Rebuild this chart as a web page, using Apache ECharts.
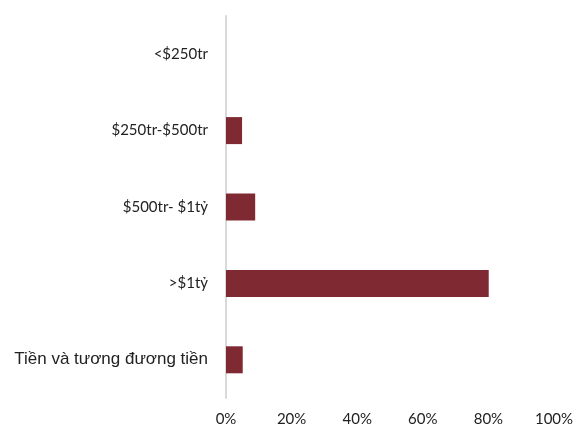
<!DOCTYPE html>
<html><head><meta charset="utf-8">
<script src="https://cdn.jsdelivr.net/npm/echarts@6/dist/echarts.min.js"></script>
<style>html,body{margin:0;padding:0;background:#fff}#c{width:577px;height:433px}</style>
</head><body><div id="c"></div>
<script>
const categories = ["<$250tr", "$250tr-$500tr", "$500tr- $1tỷ", ">$1tỷ", "Tiền và tương đương tiền"];
const values = [0, 4.9, 8.9, 80.1, 5.1];
const xTicks = [0, 20, 40, 60, 80, 100];

const chart = echarts.init(document.getElementById('c'), null, {renderer: 'canvas'});
chart.setOption({
  animation: false,
  grid: {left: 226, right: 23, top: 16, bottom: 35},
  xAxis: {
    type: 'value', min: xTicks[0], max: xTicks[xTicks.length-1], interval: 20,
    axisLine: {show: false}, axisTick: {show: false}, splitLine: {show: false},
    axisLabel: {formatter: v => v + '%', color: '#222', fontSize: 15, fontFamily: 'Lato, sans-serif', margin: 14}
  },
  yAxis: {
    type: 'category', data: categories, inverse: true,
    axisLine: {show: true, lineStyle: {color: '#d9d9d9', width: 2}},
    axisTick: {show: false},
    axisLabel: {
      margin: 18,
      formatter: v => v.startsWith('Tiền') ? '{a|' + v + '}' : '{b|' + v + '}',
      rich: {
        a: {color: '#222', fontSize: 17, fontFamily: '"Liberation Sans", Arial, sans-serif'},
        b: {color: '#222', fontSize: 15, fontFamily: 'Lato, sans-serif'}
      }
    }
  },
  series: [{
    type: 'bar', data: values, barWidth: 27,
    itemStyle: {color: '#7f2a32'}
  }]
});
</script></body></html>
